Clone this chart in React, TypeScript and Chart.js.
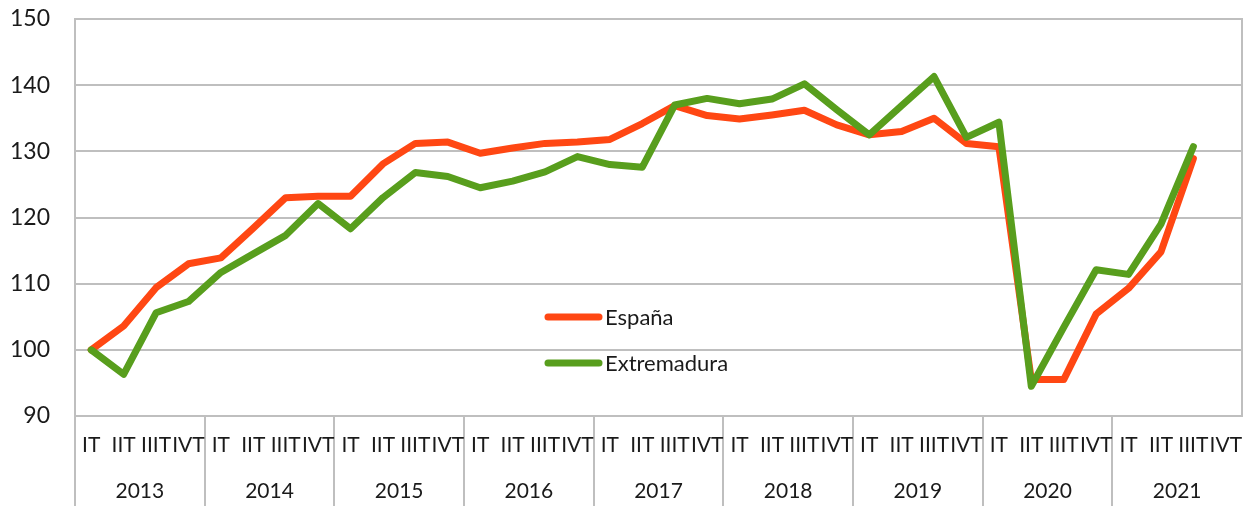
import React, { useEffect, useRef } from "react";
import { Chart, registerables } from "chart.js";

Chart.register(...registerables);

const years = ["2013", "2014", "2015", "2016", "2017", "2018", "2019", "2020", "2021"];
const quarters = ["IT", "IIT", "IIIT", "IVT"];
const yTicks = [90, 100, 110, 120, 130, 140, 150];

const espana = [
  100, 103.6, 109.4, 113.0,
  113.9, 118.4, 123.0, 123.2,
  123.2, 128.1, 131.2, 131.4,
  129.7, 130.5, 131.2, 131.4,
  131.8, 134.2, 136.9, 135.4,
  134.9, 135.5, 136.2, 134.0,
  132.5, 133.0, 135.0, 131.2,
  130.7, 95.5, 95.5, 105.4,
  109.3, 114.8, 128.9, null,
];

const extremadura = [
  100, 96.3, 105.6, 107.3,
  111.7, 114.5, 117.3, 122.1,
  118.3, 123.0, 126.8, 126.2,
  124.5, 125.5, 126.9, 129.2,
  128.0, 127.6, 137.0, 138.0,
  137.2, 137.9, 140.2, 136.3,
  132.5, 136.9, 141.3, 132.1,
  134.4, 94.5, 103.4, 112.1,
  111.4, 119.0, 130.7, null,
];

const seriesNames = ["España", "Extremadura"];
const seriesColors = ["#FF4713", "#589E1D"];

const FONT = "Lato";
const TEXT = "#1a1a1a";
const GRID = "#BFBFBF";

const inlineLegend = {
  id: "inlineLegend",
  afterDraw(chart: any) {
    const ctx = chart.ctx;
    const x0 = 548;
    const ys = [317, 363];
    ctx.save();
    chart.data.datasets.forEach((ds: any, i: number) => {
      const y = ys[i];
      ctx.strokeStyle = ds.borderColor;
      ctx.lineWidth = 7;
      ctx.lineCap = "round";
      ctx.beginPath();
      ctx.moveTo(x0, y);
      ctx.lineTo(x0 + 51, y);
      ctx.stroke();
      ctx.fillStyle = TEXT;
      ctx.font = `22px ${FONT}`;
      ctx.textAlign = "left";
      ctx.textBaseline = "middle";
      ctx.fillText(ds.label, 605, y + 1);
    });
    ctx.restore();
  },
};

export default function App() {
  const ref = useRef<HTMLCanvasElement | null>(null);

  useEffect(() => {
    document.body.style.margin = "0";
    if (!ref.current) return;
    const labels: string[] = [];
    years.forEach(() => quarters.forEach((q) => labels.push(q)));

    const chart = new Chart(ref.current, {
      type: "line",
      data: {
        labels,
        datasets: [
          {
            label: seriesNames[0],
            data: espana,
            borderColor: seriesColors[0],
            backgroundColor: seriesColors[0],
            borderWidth: 7,
            pointRadius: 0,
            tension: 0,
            borderJoinStyle: "round",
            borderCapStyle: "round",
            order: 1,
            xAxisID: "x",
            yAxisID: "y",
          },
          {
            label: seriesNames[1],
            data: extremadura,
            borderColor: seriesColors[1],
            backgroundColor: seriesColors[1],
            borderWidth: 7,
            pointRadius: 0,
            tension: 0,
            borderJoinStyle: "round",
            borderCapStyle: "round",
            order: 0,
            xAxisID: "x",
            yAxisID: "y",
          },
        ],
      },
      options: {
        responsive: false,
        animation: false,
        devicePixelRatio: 1,
        layout: { padding: { top: 19, left: 0, right: 0, bottom: 0 } },
        plugins: {
          legend: { display: false },
          tooltip: { enabled: false },
        },
        scales: {
          y: {
            position: "left",
            min: 90,
            max: 150,
            afterBuildTicks: (s: any) => {
              s.ticks = yTicks.map((v) => ({ value: v }));
            },
            afterFit: (s: any) => {
              s.width = 75;
              s.paddingTop = 0;
              s.paddingBottom = 0;
            },
            ticks: {
              padding: 25,
              color: TEXT,
              font: { family: FONT, size: 23 },
            },
            grid: { color: GRID, lineWidth: 2, drawTicks: false },
            border: { display: true, color: GRID, width: 2 },
          },
          yRight: {
            position: "right",
            min: 90,
            max: 150,
            ticks: { display: false },
            grid: { display: false },
            border: { display: true, color: GRID, width: 2 },
            afterFit: (s: any) => {
              s.width = 5;
              s.paddingTop = 0;
              s.paddingBottom = 0;
            },
          },
          x: {
            type: "category",
            position: "bottom",
            weight: 0,
            offset: true,
            afterFit: (s: any) => {
              s.height = 50;
            },
            ticks: {
              autoSkip: false,
              maxRotation: 0,
              minRotation: 0,
              padding: -73,
              color: TEXT,
              font: { family: FONT, size: 21 },
            },
            grid: {
              offset: true,
              drawOnChartArea: false,
              drawTicks: true,
              tickLength: 90,
              lineWidth: 2,
              color: (ctx: any) =>
                ctx.index !== undefined && ctx.index % 4 === 0 ? GRID : "rgba(0,0,0,0)",
            },
            border: { display: false },
          },
          x2: {
            type: "category",
            position: "bottom",
            weight: 1,
            labels: years,
            offset: true,
            afterFit: (s: any) => {
              s.height = 40;
            },
            ticks: {
              autoSkip: false,
              maxRotation: 0,
              minRotation: 0,
              padding: 13,
              color: TEXT,
              font: { family: FONT, size: 21 },
            },
            grid: { display: false, drawTicks: false },
            border: { display: false },
          },
        },
      },
      plugins: [inlineLegend],
    } as any);

    return () => chart.destroy();
  }, []);

  return (
    <div style={{ width: 1247, height: 506 }}>
      <canvas ref={ref} width={1247} height={506} style={{ display: "block" }} />
    </div>
  );
}
